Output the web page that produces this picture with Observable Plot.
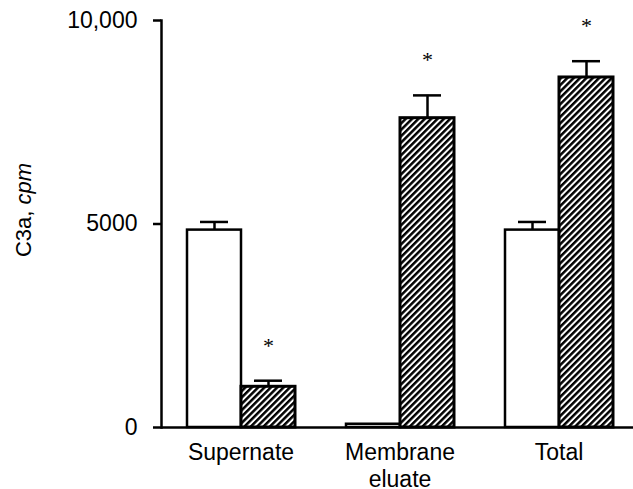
<!DOCTYPE html>
<html>
<head>
<meta charset="utf-8">
<script src="https://cdn.jsdelivr.net/npm/d3@7"></script>
<script src="https://cdn.jsdelivr.net/npm/@observablehq/plot@0.6"></script>
<style>
  html, body { margin: 0; padding: 0; background: white; }
  #chart { width: 633px; height: 489px; }
</style>
</head>
<body>
<div id="chart"></div>
<script>
const groups = ["Supernate", "Membrane eluate", "Total"];
const groupLabels = ["Supernate", "Membrane\neluate", "Total"];
const series = ["control", "treated"];
const controlMeans = [4850, 80, 4850];
const controlSE = [200, 0, 200];
const treatedMeans = [1000, 7600, 8600];
const treatedSE = [150, 560, 400];
const significant = [true, true, true];
const yTicks = [0, 5000, 10000];
const yTickLabels = ["0", "5000", "10,000"];

const rows = [];
groups.forEach((g, i) => {
  rows.push({group: g, series: "control", value: controlMeans[i], se: controlSE[i], sig: false});
  rows.push({group: g, series: "treated", value: treatedMeans[i], se: treatedSE[i], sig: significant[i]});
});
const labelRows = groups.map((g, i) => ({group: g, label: groupLabels[i]}));
const errRows = rows.filter(d => d.se > 0);

const chart = Plot.plot({
  width: 633,
  height: 489,
  marginLeft: 160,
  marginRight: -5,
  marginTop: 20,
  marginBottom: 62,
  style: {fontFamily: "'Liberation Sans', Arial, sans-serif", color: "black", background: "white"},
  fx: {domain: groups, padding: 0, axis: null},
  x: {domain: series, paddingInner: 0, paddingOuter: 0.45, axis: null},
  y: {domain: [0, 10000]},
  marks: [
    Plot.barY(rows.filter(d => d.series === "control"), {fx: "group", x: "series", y: "value", fill: "white", stroke: "black", strokeWidth: 2.5}),
    Plot.barY(rows.filter(d => d.series === "treated"), {fx: "group", x: "series", y: "value", fill: "url(#hatch)", stroke: "black", strokeWidth: 3}),
    Plot.ruleX(errRows, {fx: "group", x: "series", y1: "value", y2: d => d.value + d.se, stroke: "black", strokeWidth: 2.5}),
    Plot.tickY(errRows, {fx: "group", x: "series", y: d => d.value + d.se, stroke: "black", strokeWidth: 2.5, inset: 13}),
    Plot.ruleY([0], {stroke: "black", strokeWidth: 2.5}),
    Plot.frame({anchor: "left", facetAnchor: "left", stroke: "black", strokeWidth: 2.5}),
    Plot.axisY({ticks: yTicks, tickFormat: d => yTickLabels[yTicks.indexOf(d)], tickSize: 8, tickPadding: 16, fontSize: 23, strokeWidth: 2.5, label: null}),
    Plot.text(labelRows, {fx: "group", text: "label", frameAnchor: "bottom", lineAnchor: "top", dy: 14, fontSize: 23, lineHeight: 1.15, fill: "black"}),
    Plot.text(rows.filter(d => d.sig), {fx: "group", x: "series", y: d => d.value + d.se, text: () => "*", dy: -35, fontSize: 22, fontFamily: "'Liberation Serif', 'DejaVu Serif', serif", fill: "black"})
  ]
});

const svg = d3.select(chart);
const defs = svg.insert("defs", ":first-child");
const pat = defs.append("pattern")
  .attr("id", "hatch")
  .attr("patternUnits", "userSpaceOnUse")
  .attr("width", 4.5)
  .attr("height", 4.5)
  .attr("patternTransform", "rotate(45)");
pat.append("rect").attr("width", 4.5).attr("height", 4.5).attr("fill", "white");
pat.append("line").attr("x1", 1.2).attr("y1", 0).attr("x2", 1.2).attr("y2", 4.5).attr("stroke", "black").attr("stroke-width", 2.6);

const yl = svg.append("text")
  .attr("transform", "translate(31,210) rotate(-90)")
  .attr("text-anchor", "middle")
  .attr("font-size", 22)
  .attr("fill", "black");
yl.append("tspan").text("C3a, ");
yl.append("tspan").attr("font-style", "italic").text("cpm");

document.getElementById("chart").appendChild(chart);
</script>
</body>
</html>
